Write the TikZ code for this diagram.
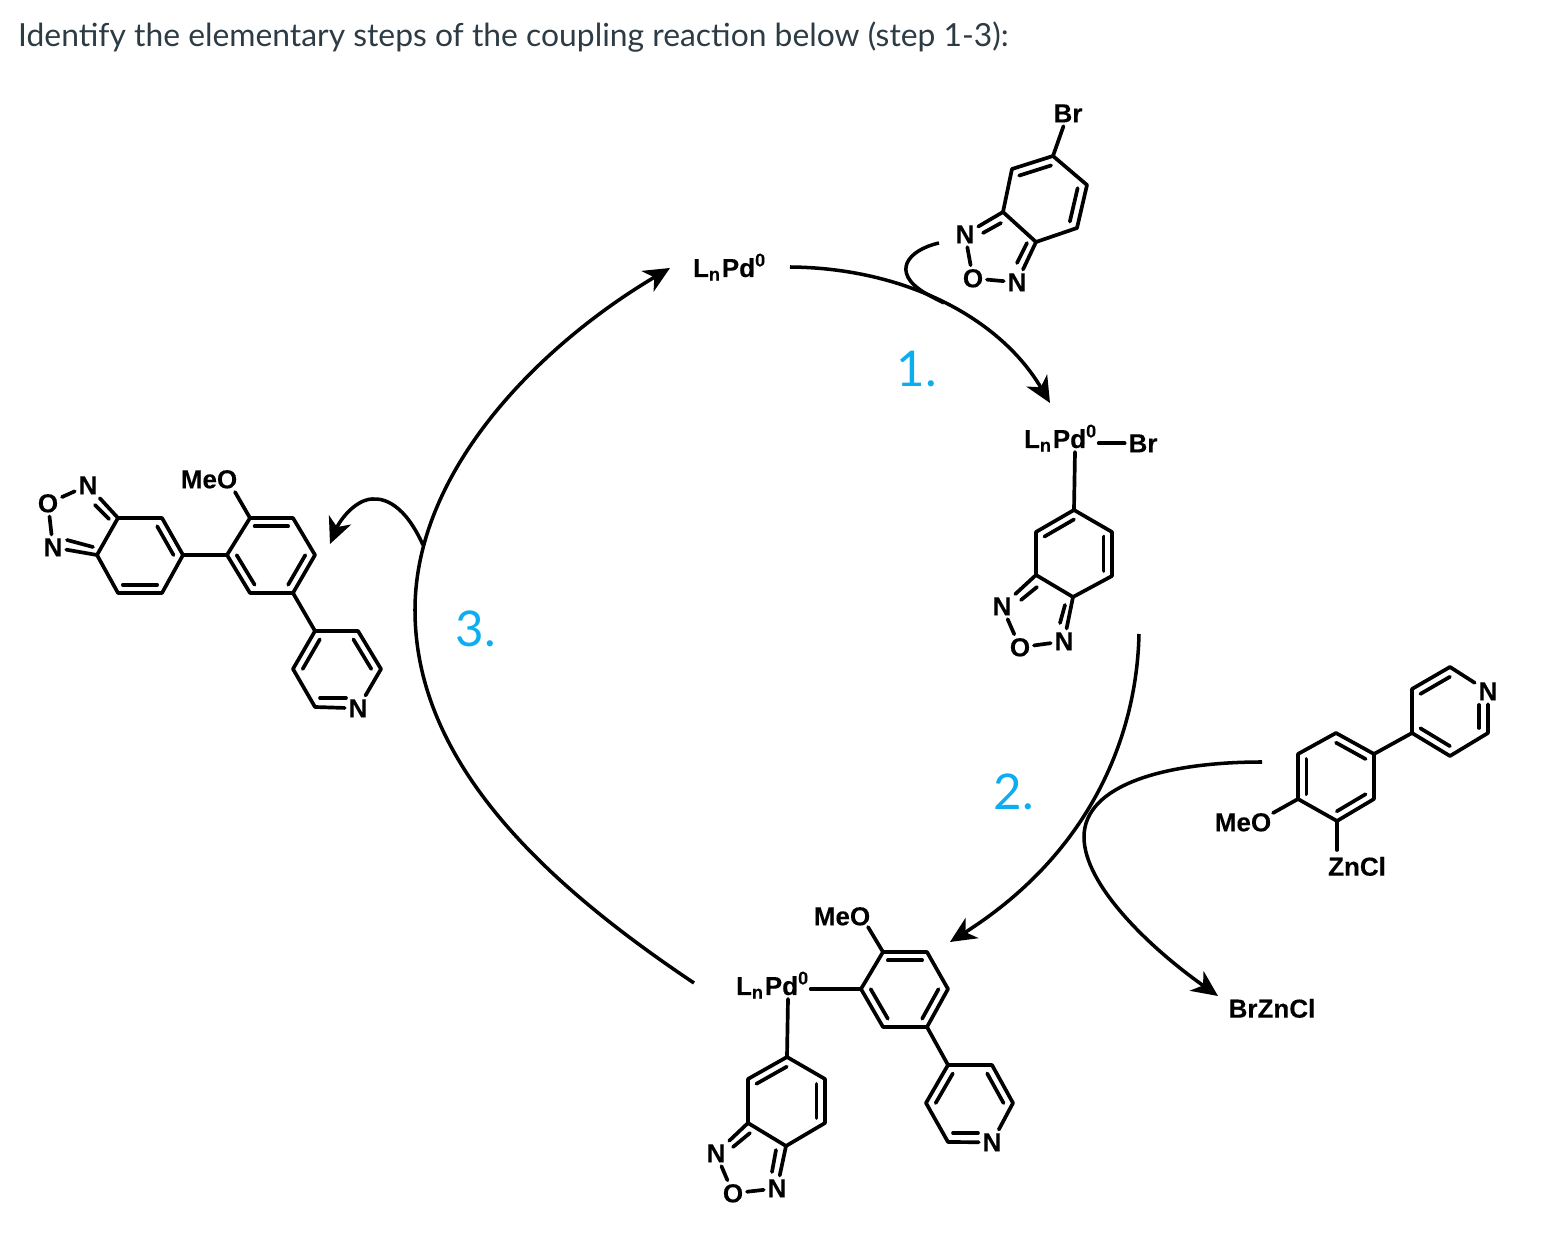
\documentclass[tikz,border=0pt]{standalone}
\usepackage{fontspec}
\setmainfont{Liberation Sans}[BoldFeatures={FakeBold=0.15}]
\newfontfamily\latofont{Lato}
\usepackage{xcolor}
\usetikzlibrary{arrows.meta,calc}
\definecolor{titlegrey}{HTML}{2D3B45}
\definecolor{stepblue}{HTML}{0DAEEF}
\tikzset{
  bond/.style={line width=1.05pt,line cap=round,line join=round},
  curvearrow/.style={line width=1pt,-{Stealth[length=7.4pt,width=6.8pt,inset=2.2pt]}},
  curveline/.style={line width=1pt},
  atom/.style={inner sep=.9pt,yshift=-.1pt,font=\fontsize{7.4}{8}\selectfont\bfseries},
  pdlabel/.style={inner sep=0pt,anchor=base,font=\fontsize{7.4}{8}\selectfont\bfseries},
  steplabel/.style={inner sep=0pt,text=stepblue,font=\fontsize{14}{16}\selectfont\latofont},
}
\newcommand{\dblbond}[3]{\draw[bond] ($(#1)!.22!(#3)$) -- ($(#2)!.22!(#3)$);}
\begin{document}
\begin{tikzpicture}[x=.01cm,y=-.01cm]
\useasboundingbox (0,0) rectangle (1550,1243);
\node[inner sep=0pt,anchor=base west,text=titlegrey,font=\fontsize{9.05}{12}\selectfont\latofont] (title) at (17.5,47) {Identify the elementary steps of the coupling reaction below (step 1-3):};

\node[steplabel] (one) at (917,369) {1.};
\node[steplabel] (two) at (1014,792) {2.};
\node[steplabel] (three) at (476,629) {3.};

\node[pdlabel] (pda) at (730,277) {L\textsubscript{n}Pd\textsuperscript{0}};
\node[pdlabel] (pdb) at (1061,448) {L\textsubscript{n}Pd\textsuperscript{0}};
\node[pdlabel] (pdc) at (773,995) {L\textsubscript{n}Pd\textsuperscript{0}};
\node[atom] (zinc) at (1272,1008) {BrZnCl};

\coordinate (ac) at (1044.5,199);
\coordinate (a1) at (1053,156);
\coordinate (a2) at (1087,185);
\coordinate (a3) at (1077,228);
\coordinate (a4) at (1036,242);
\coordinate (a5) at (1003,212);
\coordinate (a6) at (1012,169);
\node[atom] (abr) at (1068,113) {Br};
\node[atom] (an1) at (965,234) {N};
\node[atom] (ao) at (973,278) {O};
\node[atom] (an2) at (1017,282) {N};
\draw[bond] (a1) -- (a2) -- (a3) -- (a4) -- (a5) -- (a6) -- cycle;
\draw[bond] (a1) -- (abr);
\draw[bond] (a5) -- (an1);
\draw[bond] (an1) -- (ao);
\draw[bond] (ao) -- (an2);
\draw[bond] (an2) -- (a4);
\dblbond{a6}{a1}{ac}
\dblbond{a2}{a3}{ac}
\draw[bond] (983,233) -- (1001,223);
\draw[bond] (1027,243) -- (1017,263);

\coordinate (bc) at (1074,553);
\coordinate (b1) at (1074,510);
\coordinate (b2) at (1112,532);
\coordinate (b3) at (1112,576);
\coordinate (b4) at (1073,597);
\coordinate (b5) at (1036,575);
\coordinate (b6) at (1036,532);
\coordinate (bp) at (1075,452);
\node[atom] (bbr) at (1143,443) {Br};
\node[atom] (bn1) at (1002,606) {N};
\node[atom] (bo) at (1020,647) {O};
\node[atom] (bn2) at (1064,641) {N};
\draw[bond] (b1) -- (b2) -- (b3) -- (b4) -- (b5) -- (b6) -- cycle;
\draw[bond] (pdb.east |- bbr) -- (bbr);
\draw[bond] (bp) -- (b1);
\draw[bond] (b5) -- (bn1);
\draw[bond] (bn1) -- (bo);
\draw[bond] (bo) -- (bn2);
\draw[bond] (bn2) -- (b4);
\dblbond{b6}{b1}{bc}
\dblbond{b2}{b3}{bc}
\draw[bond] (1021,600) -- (1037,587);
\draw[bond] (1060,623) -- (1065,605);

\coordinate (cc) at (905,989.5);
\coordinate (c1) at (883,952);
\coordinate (c2) at (927,952);
\coordinate (c3) at (948,989);
\coordinate (c4) at (927,1027);
\coordinate (c5) at (883,1027);
\coordinate (c6) at (861,989);
\coordinate (co) at (868,927);
\node[atom] (cmeo) at (842,916) {MeO};
\draw[bond] (c1) -- (c2) -- (c3) -- (c4) -- (c5) -- (c6) -- cycle;
\draw[bond] (co) -- (c1);
\draw[bond] (pdc.east |- c6) -- (c6);
\dblbond{c1}{c2}{cc}
\dblbond{c3}{c4}{cc}
\dblbond{c5}{c6}{cc}

\coordinate (dc) at (786,1101);
\coordinate (d1) at (787,1057);
\coordinate (d2) at (825,1079);
\coordinate (d3) at (825,1123);
\coordinate (d4) at (786,1146);
\coordinate (d5) at (748,1123);
\coordinate (d6) at (748,1079);
\coordinate (dp) at (788,999);
\node[atom] (dn1) at (716,1153) {N};
\node[atom] (do) at (733,1193) {O};
\node[atom] (dn2) at (777,1188) {N};
\draw[bond] (d1) -- (d2) -- (d3) -- (d4) -- (d5) -- (d6) -- cycle;
\draw[bond] (dp) -- (d1);
\draw[bond] (d5) -- (dn1);
\draw[bond] (dn1) -- (do);
\draw[bond] (do) -- (dn2);
\draw[bond] (dn2) -- (d4);
\dblbond{d6}{d1}{dc}
\dblbond{d2}{d3}{dc}
\draw[bond] (733,1147) -- (750,1133);
\draw[bond] (772,1172) -- (776,1150);

\coordinate (ec) at (970,1103.5);
\coordinate (e1) at (948,1065);
\coordinate (e2) at (992,1065);
\coordinate (e3) at (1013,1103);
\coordinate (e5) at (948,1142);
\coordinate (e6) at (926,1103);
\node[atom] (en) at (992,1142) {N};
\draw[bond] (en) -- (e3) -- (e2) -- (e1) -- (e6) -- (e5) -- (en);
\draw[bond] (c4) -- (e1);
\dblbond{e1}{e6}{ec}
\dblbond{e2}{e3}{ec}
\draw[bond] (953,1133) -- (978,1133);

\coordinate (fc) at (140,555.5);
\coordinate (f1) at (118,518);
\coordinate (f2) at (162,518);
\coordinate (f3) at (183,555);
\coordinate (f4) at (162,593);
\coordinate (f5) at (118,593);
\coordinate (f6) at (97,555);
\node[atom] (fn1) at (88,485) {N};
\node[atom] (fo) at (48,503) {O};
\node[atom] (fn2) at (53,547) {N};
\draw[bond] (f1) -- (f2) -- (f3) -- (f4) -- (f5) -- (f6) -- cycle;
\draw[bond] (f1) -- (fn1);
\draw[bond] (fn1) -- (fo);
\draw[bond] (fo) -- (fn2);
\draw[bond] (fn2) -- (f6);
\dblbond{f2}{f3}{fc}
\dblbond{f4}{f5}{fc}
\draw[bond] (95,505) -- (109,519);
\draw[bond] (67,540) -- (93,547);

\coordinate (gc) at (271,555.5);
\coordinate (g1) at (250,518);
\coordinate (g2) at (293,518);
\coordinate (g3) at (315,555);
\coordinate (g4) at (293,593);
\coordinate (g5) at (250,593);
\coordinate (g6) at (227,555);
\coordinate (go) at (235,492);
\node[atom] (gmeo) at (209,479) {MeO};
\draw[bond] (g1) -- (g2) -- (g3) -- (g4) -- (g5) -- (g6) -- cycle;
\draw[bond] (f3) -- (g6);
\draw[bond] (go) -- (g1);
\dblbond{g1}{g2}{gc}
\dblbond{g3}{g4}{gc}
\dblbond{g5}{g6}{gc}

\coordinate (hc) at (337,669);
\coordinate (h1) at (315,631);
\coordinate (h2) at (358,631);
\coordinate (h3) at (381,669);
\coordinate (h5) at (315,707);
\coordinate (h6) at (293,669);
\node[atom] (hn) at (358,708) {N};
\draw[bond] (hn) -- (h3) -- (h2) -- (h1) -- (h6) -- (h5) -- (hn);
\draw[bond] (g4) -- (h1);
\dblbond{h1}{h6}{hc}
\dblbond{h2}{h3}{hc}
\draw[bond] (320,698) -- (346,698);

\coordinate (ic) at (1336,777);
\coordinate (i1) at (1336,733);
\coordinate (i2) at (1374,754);
\coordinate (i3) at (1374,799);
\coordinate (i4) at (1337,821);
\coordinate (i5) at (1298,799);
\coordinate (i6) at (1298,754);
\coordinate (io) at (1273,813);
\coordinate (iz) at (1337,850);
\node[atom] (imeo) at (1243,822) {MeO};
\node[atom] (izn) at (1357,866) {ZnCl};
\draw[bond] (i1) -- (i2) -- (i3) -- (i4) -- (i5) -- (i6) -- cycle;
\draw[bond] (io) -- (i5);
\draw[bond] (i4) -- (iz);
\dblbond{i1}{i2}{ic}
\dblbond{i3}{i4}{ic}
\dblbond{i5}{i6}{ic}

\coordinate (jc) at (1450,711.5);
\coordinate (j1) at (1412,733);
\coordinate (j2) at (1412,689);
\coordinate (j3) at (1450,667);
\coordinate (j5) at (1488,733);
\coordinate (j6) at (1450,756);
\node[atom] (jn) at (1488,691) {N};
\draw[bond] (jn) -- (j3) -- (j2) -- (j1) -- (j6) -- (j5) -- (jn);
\draw[bond] (i2) -- (j1);
\dblbond{j2}{j3}{jc}
\dblbond{j1}{j6}{jc}
\draw[bond] (1479,705) -- (1479,728);

\coordinate (sa) at (790,267);
\coordinate (ta) at (1050,403);
\coordinate (sb) at (939,243);
\coordinate (mb) at (944,303);
\coordinate (sc) at (1139,634);
\coordinate (tc) at (950,942);
\coordinate (sd) at (1262,762);
\coordinate (td) at (1218,996);
\coordinate (se) at (694,983);
\coordinate (te) at (670,268);
\coordinate (sf) at (423,545);
\coordinate (tf) at (330,544);
\draw[curvearrow] (sa) .. controls (905,268) and (1000,318) .. (ta);
\draw[curveline] (sb) .. controls (908,250) and (890,272) .. (925,293) .. controls (932,297) and (938,300) .. (mb);
\draw[curvearrow] (sc) .. controls (1137,730) and (1095,850) .. (tc);
\draw[curvearrow] (sd) .. controls (1165,762) and (1084,785) .. (1084,837) .. controls (1084,885) and (1150,948) .. (td);
\draw[curvearrow] (se) .. controls (540,880) and (415,760) .. (415,610) .. controls (415,470) and (540,345) .. (te);
\draw[curvearrow] (sf) .. controls (405,505) and (385,498) .. (372,499) .. controls (355,500) and (340,520) .. (tf);
\end{tikzpicture}
\end{document}
